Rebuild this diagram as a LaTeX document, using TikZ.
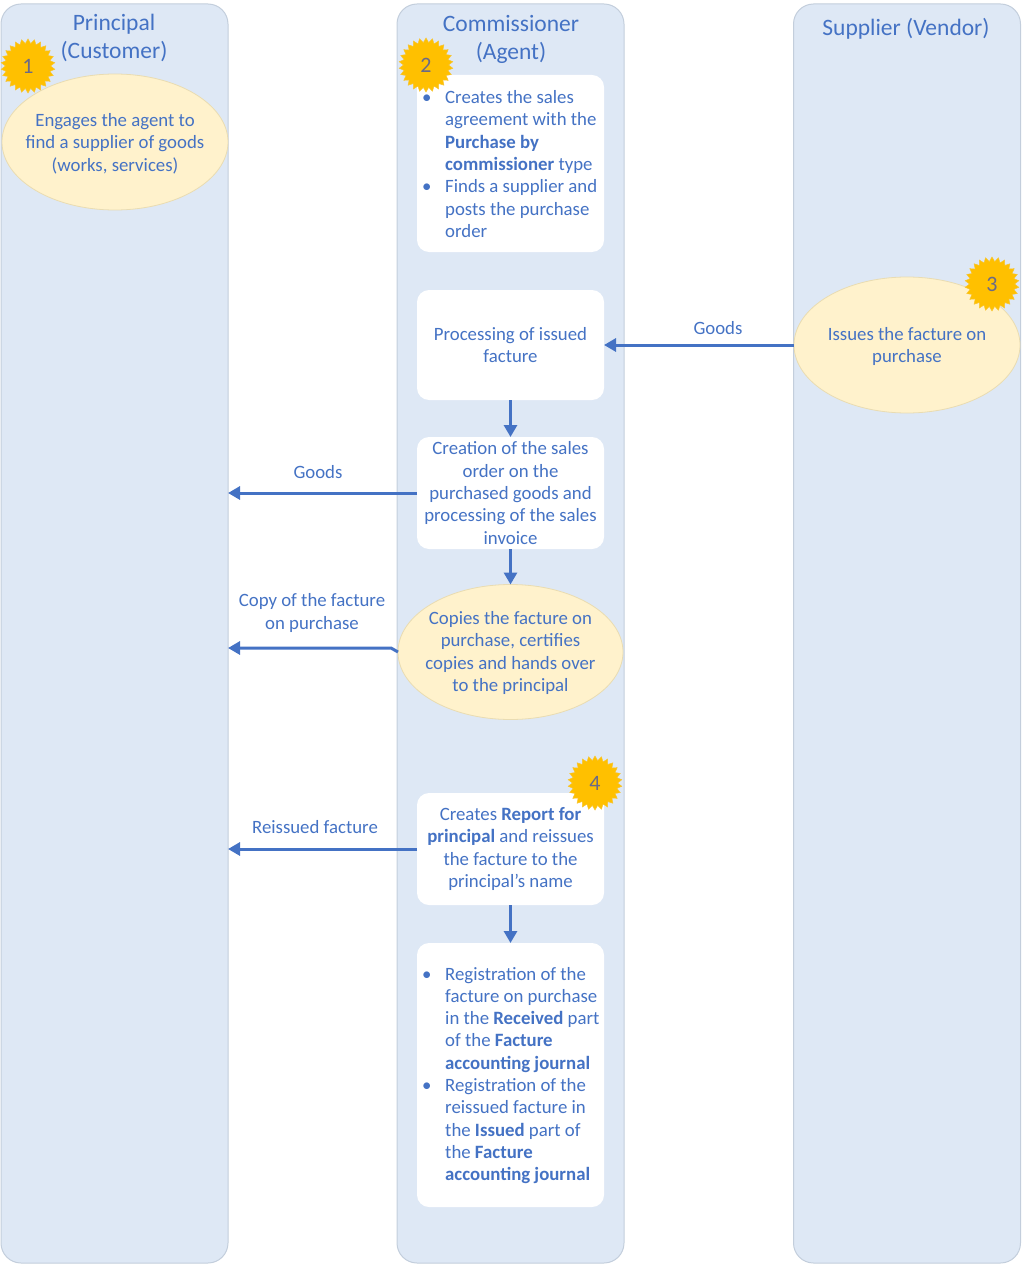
\documentclass[tikz,border=0pt]{standalone}
\usepackage{fontspec}
\setmainfont{Carlito}
\usetikzlibrary{shapes.geometric,arrows.meta,calc}
\definecolor{txt}{HTML}{4472C4}
\definecolor{lanefill}{HTML}{DEE8F5}
\definecolor{laneline}{HTML}{C3CEDC}
\definecolor{ellfill}{HTML}{FFF2CC}
\definecolor{ellline}{HTML}{E9DCB2}
\definecolor{starfill}{HTML}{FFC000}
\definecolor{starline}{HTML}{F8C530}
\definecolor{digit}{HTML}{6A6A88}
\newcommand\myitem{\par\hangindent=24pt\hangafter=1\noindent\makebox[24pt][l]{\hspace{1pt}\textbullet}}
\begin{document}
\begin{tikzpicture}[x=1pt,y=-1pt,
  lane/.style={draw=laneline, line width=1pt, fill=lanefill, rounded corners=20pt, minimum width=227pt, minimum height=1259pt, anchor=north west, inner sep=0pt, outer sep=0pt},
  wbox/.style={fill=white, draw=none, rounded corners=12pt, minimum width=187pt, inner sep=0pt, outer sep=0pt},
  ell/.style={ellipse, fill=ellfill, draw=ellline, line width=0.8pt, minimum width=226pt, minimum height=136pt, inner sep=0pt, outer sep=0pt},
  sun/.style={star, star points=26, star point ratio=1.2, fill=starfill, draw=starline, line width=0.5pt, minimum size=54pt, inner sep=0pt, text=digit, font=\fontsize{22}{26}\selectfont},
  body/.style={text=txt, font=\fontsize{18.8}{22.3}\selectfont, align=center, inner sep=0pt},
  ttl/.style={text=txt, font=\fontsize{23.5}{28}\selectfont, align=center, inner sep=0pt},
  arr/.style={draw=txt, line width=3pt, -{Triangle[length=12pt,width=13pt]}}
]
\useasboundingbox (0,0) rectangle (1021,1265);

% lanes
\node[lane] (laneP) at (1,4) {};
\node[lane] (laneC) at (397,4) {};
\node[lane] (laneS) at (793.5,4) {};

% titles
\node[ttl] (tP) at (114,38) {Principal\\(Customer)};
\node[ttl] (tC) at (511,39) {Commissioner\\(Agent)};
\node[ttl] (tS) at (906,29) {Supplier (Vendor)};

% step 1
\node[ell] (e1) at (115,142) {};
\node[body] (e1t) at (115,143.5) {Engages the agent to\\find a supplier of goods\\(works, services)};
\node[sun] (s1) at (28,66) {1};

% step 2
\node[wbox, minimum height=177pt] (b2) at (510.5,163.5) {};
\node[body, anchor=west] (b2t) at (421,164) {\parbox{185pt}{%
\myitem Creates the sales\newline agreement with the\newline \textbf{Purchase by}\newline \textbf{commissioner} type
\myitem Finds a supplier and\newline posts the purchase\newline order}};
\node[sun] (s2) at (426,65) {2};

% processing
\node[wbox, minimum height=110pt] (bproc) at (510.5,345) {};
\node[body] (bproct) at (bproc.center) {Processing of issued\\facture};

% step 3
\node[ell] (e3) at (907,345) {};
\node[body] (e3t) at (907,346.5) {Issues the facture on\\purchase};
\node[sun] (s3) at (992,284) {3};

% creation of sales order
\node[wbox, minimum height=112pt] (bcreate) at (510.5,493) {};
\node[body] (bcreatet) at (bcreate.center) {Creation of the sales\\order on the\\purchased goods and\\processing of the sales\\invoice};

% copies
\node[ell, minimum width=225pt, minimum height=135pt] (ecopy) at (510.5,652) {};
\node[body] (ecopyt) at (510.5,653) {Copies the facture on\\purchase, certifies\\copies and hands over\\to the principal};

% step 4
\node[wbox, minimum height=112pt] (b4) at (510.5,849) {};
\node[body] (b4t) at (b4.center) {Creates \textbf{Report for}\\\textbf{principal} and reissues\\the facture to the\\principal’s name};
\node[sun] (s4) at (595,783) {4};

% last box
\node[wbox, minimum height=264pt] (blast) at (510.5,1075) {};
\node[body, anchor=west] (blastt) at (421,1075.5) {\parbox{185pt}{%
\myitem Registration of the\newline facture on purchase\newline in the \textbf{Received} part\newline of the \textbf{Facture}\newline \textbf{accounting journal}
\myitem Registration of the\newline reissued facture in\newline the \textbf{Issued} part of\newline the \textbf{Facture}\newline \textbf{accounting journal}}};

% connectors
\draw[arr] (e3.west) -- (bproc.east);
\draw[arr] (bproc.south) -- (bcreate.north);
\draw[arr] (bcreate.west) -- (bcreate.west -| laneP.east);
\draw[arr] (bcreate.south) -- (ecopy.north);
\coordinate (cb) at ($(ecopy.west)+(-7,-4)$);
\draw[arr] (ecopy.west) -- (cb) -- (cb -| laneP.east);
\draw[arr] (b4.west) -- (b4.west -| laneP.east);
\draw[arr] (b4.south) -- (blast.north);

% connector labels
\node[body] (lg1) at (718,328) {Goods};
\node[body] (lg2) at (318,472) {Goods};
\node[body] (lcopy) at (312,613) {Copy of the facture\\on purchase};
\node[body] (lre) at (315,827) {Reissued facture};
\end{tikzpicture}
\end{document}
